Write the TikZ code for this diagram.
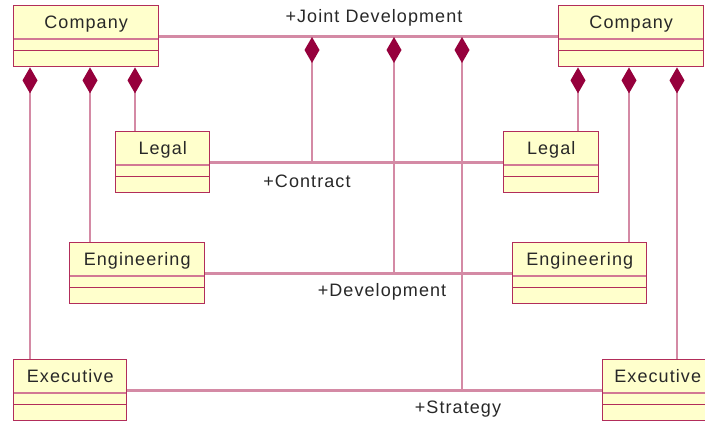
\documentclass[tikz,border=0pt]{standalone}
\usepackage{fontspec}
\setmainfont{Liberation Sans}[LetterSpace=6]
\usetikzlibrary{arrows.meta,calc}
\definecolor{linec}{RGB}{212,138,165}
\definecolor{boxc}{RGB}{178,45,90}
\definecolor{divc}{RGB}{210,120,148}
\definecolor{fillc}{RGB}{255,255,204}
\definecolor{diamc}{RGB}{150,0,60}
\definecolor{txtc}{RGB}{40,40,40}
\tikzset{
  umlbox/.style={draw=boxc, fill=fillc, line width=1.4pt, rectangle, anchor=north west,
    inner sep=0pt, text height=23pt, text depth=38pt, minimum width=#1,
    font=\fontsize{18}{20}\selectfont, text=txtc,
    path picture={
      \draw[divc, line width=2pt] ([yshift=-33pt]path picture bounding box.north west) -- ([yshift=-33pt]path picture bounding box.north east);
      \draw[boxc, line width=1.3pt] ([yshift=-45pt]path picture bounding box.north west) -- ([yshift=-45pt]path picture bounding box.north east);
    }},
  assoc/.style={draw=linec, line width=2.6pt},
  comp/.style={draw=linec, line width=2.6pt, -{Diamond[length=26pt,width=15pt,color=diamc,fill=diamc]}},
  lbl/.style={font=\fontsize{18}{20}\selectfont, text=txtc, inner sep=0pt}
}
\begin{document}
\begin{tikzpicture}[x=1pt,y=-1pt]
\fill[white] (0,0) rectangle (705,423);
\useasboundingbox (0,0) rectangle (705,423);
\begin{scope}
\clip (0,0) rectangle (705,423);
% classes
\node[umlbox=145pt] (c1) at (13,5) {Company};
\node[umlbox=145pt] (c2) at (558,5) {Company};
\node[umlbox=94pt] (l1) at (115,131) {Legal};
\node[umlbox=95pt] (l2) at (503,131) {Legal};
\node[umlbox=135pt] (e1) at (69,242) {Engineering};
\node[umlbox=134pt] (e2) at (512,242) {Engineering};
\node[umlbox=113pt] (x1) at (13,359) {Executive};
\node[umlbox=110pt] (x2) at (602,359) {Executive};
% associations
\draw[assoc] (c1.east) -- (c2.west);
\draw[assoc] (l1.east) -- (l2.west);
\draw[assoc] (e1.east) -- (e2.west);
\draw[assoc] (x1.east) -- (x2.west);
% joint composition points
\coordinate (j1) at (312,37);
\coordinate (j2) at (394,37);
\coordinate (j3) at (462,37);
\draw[comp] (j1 |- l1.east) -- (j1);
\draw[comp] (j2 |- e1.east) -- (j2);
\draw[comp] (j3 |- x1.east) -- (j3);
% left company compositions
\path (c1.south west) ++(17,0) coordinate (ca) ++(60,0) coordinate (cb) ++(45,0) coordinate (cc);
\draw[comp] (ca |- x1.north) -- (ca);
\draw[comp] (cb |- e1.north) -- (cb);
\draw[comp] (cc |- l1.north) -- (cc);
% right company compositions
\path (c2.south west) ++(20,0) coordinate (da) ++(51,0) coordinate (db) ++(48,0) coordinate (dc);
\draw[comp] (da |- l2.north) -- (da);
\draw[comp] (db |- e2.north) -- (db);
\draw[comp] (dc |- x2.north) -- (dc);
% labels
\node[lbl] (tj) at (374,18) {+Joint Development};
\node[lbl] (tc) at (307,181) {+Contract};
\node[lbl] (td) at (382,292) {+Development};
\node[lbl] (ts) at (458,409) {+Strategy};
\end{scope}
\end{tikzpicture}
\end{document}
